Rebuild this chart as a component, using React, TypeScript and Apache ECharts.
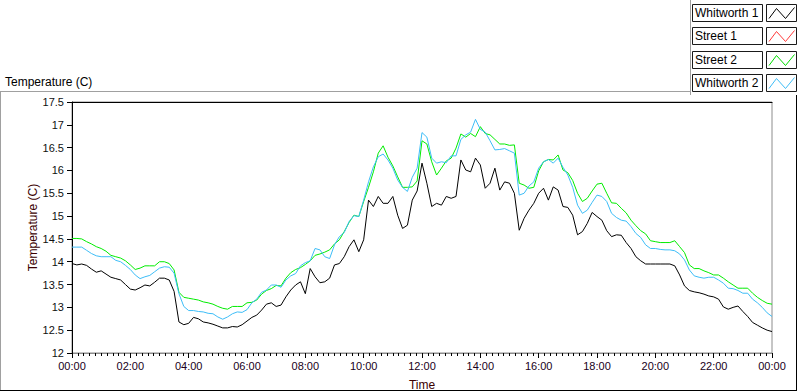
import React, { useEffect, useRef } from "react";
import * as echarts from "echarts";

const seriesNames = ["Whitworth 1", "Street 1", "Street 2", "Whitworth 2"];
const seriesColors = ["#000000", "#ff3a3a", "#00ec00", "#3dbdf7"];
const legendSwatchColors = ["#000000", "#ff3a3a", "#00dd00", "#3dbdf7"];

// samples every 10 minutes, 00:00 .. 24:00
const sampleStepMinutes = 10;

const whitworth1 = [
  13.96, 13.93, 13.95, 13.92, 13.84, 13.77, 13.80, 13.73, 13.66, 13.63,
  13.60, 13.50, 13.40, 13.38, 13.43, 13.49, 13.47, 13.55, 13.64, 13.64,
  13.60, 13.35, 12.68, 12.62, 12.65, 12.78, 12.75, 12.68, 12.66, 12.63,
  12.59, 12.55, 12.55, 12.58, 12.57, 12.62, 12.70, 12.78, 12.83, 12.94,
  13.07, 13.10, 13.02, 13.05, 13.23, 13.38, 13.49, 13.56, 13.30, 13.85,
  13.67, 13.54, 13.56, 13.64, 13.93, 13.96, 14.11, 14.33, 14.48, 14.22,
  14.48, 15.35, 15.21, 15.43, 15.28, 15.28, 15.43, 15.02, 14.73, 14.80,
  15.35, 15.55, 16.16, 15.72, 15.21, 15.28, 15.24, 15.43, 15.39, 15.43,
  16.23, 16.01, 15.97, 16.27, 16.12, 15.61, 15.72, 16.05, 15.57, 15.75,
  15.72, 15.50, 14.69, 14.95, 15.13, 15.28, 15.50, 15.61, 15.35, 15.64,
  15.57, 15.21, 15.19, 15.02, 14.59, 14.66, 14.84, 15.08, 14.99, 14.91,
  14.68, 14.55, 14.59, 14.58, 14.42, 14.29, 14.11, 14.02, 13.95, 13.95,
  13.95, 13.95, 13.95, 13.95, 13.91, 13.71, 13.47, 13.37, 13.34, 13.32,
  13.29, 13.25, 13.23, 13.18, 13.01, 12.96, 13.00, 13.03, 12.91, 12.80,
  12.67, 12.61, 12.55, 12.50, 12.47,
];

const street1: number[] = [];

const street2 = [
  14.51, 14.51, 14.50, 14.44, 14.39, 14.33, 14.29, 14.23, 14.14, 14.11,
  14.08, 14.02, 13.93, 13.83, 13.86, 13.91, 13.91, 13.91, 14.00, 14.00,
  13.96, 13.82, 13.33, 13.22, 13.20, 13.18, 13.16, 13.12, 13.10, 13.07,
  13.02, 12.98, 12.96, 13.02, 13.02, 13.02, 13.10, 13.11, 13.16, 13.29,
  13.37, 13.41, 13.48, 13.47, 13.64, 13.76, 13.83, 13.87, 13.94, 14.02,
  14.14, 14.17, 14.21, 14.26, 14.39, 14.48, 14.66, 14.86, 15.02, 14.99,
  15.32, 15.63, 15.97, 16.38, 16.54, 16.29, 16.10, 15.86, 15.63, 15.63,
  15.64, 15.77, 16.65, 16.58, 16.19, 15.90, 16.05, 16.21, 16.27, 16.49,
  16.80, 16.73, 16.81, 16.74, 16.96, 16.81, 16.78, 16.68, 16.58, 16.58,
  16.55, 16.56, 15.72, 15.68, 15.61, 15.63, 15.99, 16.19, 16.24, 16.23,
  16.34, 16.01, 15.95, 15.78, 15.50, 15.32, 15.39, 15.55, 15.70, 15.72,
  15.50, 15.29, 15.28, 15.17, 15.07, 14.91, 14.79, 14.68, 14.61, 14.46,
  14.44, 14.42, 14.42, 14.42, 14.46, 14.33, 14.20, 13.93, 13.85, 13.85,
  13.80, 13.76, 13.71, 13.71, 13.64, 13.56, 13.49, 13.42, 13.42, 13.42,
  13.31, 13.22, 13.15, 13.09, 13.07,
];

const whitworth2 = [
  14.32, 14.32, 14.32, 14.25, 14.18, 14.13, 14.11, 14.11, 14.11, 14.03,
  14.00, 13.92, 13.83, 13.71, 13.63, 13.67, 13.70, 13.78, 13.86, 13.89,
  13.88, 13.75, 13.30, 13.02, 12.93, 12.93, 12.91, 12.90, 12.87, 12.86,
  12.79, 12.74, 12.79, 12.86, 12.90, 12.89, 12.95, 13.10, 13.18, 13.33,
  13.38, 13.49, 13.49, 13.44, 13.60, 13.69, 13.74, 13.91, 13.98, 14.02,
  14.29, 14.26, 14.11, 14.07, 14.37, 14.55, 14.64, 14.88, 15.01, 14.99,
  15.35, 15.75, 16.08, 16.30, 16.36, 16.23, 16.05, 15.79, 15.63, 15.54,
  15.85, 16.05, 16.83, 16.73, 16.27, 16.16, 16.19, 16.17, 16.32, 16.32,
  16.68, 16.78, 16.84, 17.12, 16.90, 16.84, 16.65, 16.45, 16.46, 16.48,
  16.43, 16.38, 15.46, 15.50, 15.66, 15.75, 16.05, 16.19, 16.24, 16.16,
  16.27, 16.07, 15.90, 15.63, 15.24, 15.06, 15.13, 15.30, 15.46, 15.43,
  15.32, 15.06, 14.97, 14.91, 14.89, 14.77, 14.62, 14.53, 14.37, 14.29,
  14.29, 14.27, 14.26, 14.26, 14.24, 14.17, 14.04, 13.82, 13.69, 13.66,
  13.64, 13.66, 13.66, 13.60, 13.53, 13.42, 13.41, 13.37, 13.31, 13.31,
  13.18, 13.10, 13.00, 12.88, 12.80,
];

const seriesValues = [whitworth1, street1, street2, whitworth2];

const yMin = 12;
const yMax = 17.5;
const yStep = 0.5;
const xMinMinutes = 0;
const xMaxMinutes = 1440;
const xStepMinutes = 120;

const chartTitle = "Temperature (C)";
const yAxisName = "Temperature (C)";
const xAxisName = "Time";

const FONT = "'Liberation Sans', Arial, sans-serif";

function fmtTime(v: number): string {
  const h = Math.floor(v / 60) % 24;
  const m = Math.round(v % 60);
  return String(h).padStart(2, "0") + ":" + String(m).padStart(2, "0");
}

export default function App() {
  const ref = useRef<HTMLDivElement>(null);

  useEffect(() => {
    if (!ref.current) return;
    const chart = echarts.init(ref.current, undefined, { renderer: "svg" });

    const series = seriesNames.map((name, i) => ({
      name,
      type: "line",
      xAxisIndex: 0,
      yAxisIndex: 0,
      showSymbol: false,
      symbol: "none",
      lineStyle: { width: 1, color: seriesColors[i] },
      itemStyle: { color: seriesColors[i] },
      data: seriesValues[i].map((v, k) => [k * sampleStepMinutes, v]),
      z: 2 + i,
    }));

    const legendGraphics: any[] = [];
    seriesNames.forEach((name, i) => {
      const top = 4 + i * 23.4;
      legendGraphics.push({
        type: "rect",
        shape: { x: 692.5, y: Math.round(top) + 0.5, width: 70, height: 17 },
        style: { fill: "#ffffff", stroke: "#1a1a1a", lineWidth: 1 },
        silent: true,
      });
      legendGraphics.push({
        type: "text",
        x: 695,
        y: Math.round(top) + 9,
        style: {
          text: name,
          fill: "#000000",
          font: `12px ${FONT}`,
          verticalAlign: "middle",
          align: "left",
        },
        silent: true,
      });
      const sx = 766.5;
      const sy = Math.round(top) + 0.5;
      legendGraphics.push({
        type: "rect",
        shape: { x: sx, y: sy, width: 30, height: 17 },
        style: { fill: "#ffffff", stroke: "#1a1a1a", lineWidth: 1 },
        silent: true,
      });
      legendGraphics.push({
        type: "polyline",
        shape: {
          points: [
            [sx + 2.5, sy + 14],
            [sx + 10, sy + 4],
            [sx + 19, sy + 14],
            [sx + 28, sy + 3],
          ],
        },
        style: { stroke: legendSwatchColors[i], lineWidth: 1, fill: null },
        silent: true,
      });
    });

    const option: any = {
      animation: false,
      backgroundColor: "#ffffff",
      textStyle: { fontFamily: FONT },
      grid: {
        left: 72,
        right: 28,
        top: 102,
        bottom: 39,
        show: true,
        borderColor: "#8c8c8c",
        borderWidth: 1,
        backgroundColor: "#ffffff",
        containLabel: false,
        outerBoundsMode: "none",
      },
      xAxis: [
        {
          type: "value",
          min: xMinMinutes,
          max: xMaxMinutes,
          interval: xStepMinutes,
          position: "bottom",
          name: xAxisName,
          nameLocation: "middle",
          nameGap: 26,
          nameMoveOverlap: false,
          nameTextStyle: { color: "#3a0000", fontSize: 12, fontFamily: FONT, verticalAlign: "top" },
          axisLine: { show: true, lineStyle: { color: "#8c8c8c", width: 1 } },
          axisTick: { show: true, inside: false, length: 5, lineStyle: { color: "#000000" } },
          minorTick: { show: true, splitNumber: 10, length: 3, lineStyle: { color: "#000000" } },
          axisLabel: {
            show: true,
            margin: 7,
            color: "#200020",
            fontSize: 11,
            fontFamily: FONT,
            formatter: (v: number) => fmtTime(v),
            showMinLabel: true,
            showMaxLabel: true,
          },
          splitLine: { show: false },
          minorSplitLine: { show: false },
        },
        {
          type: "value",
          min: xMinMinutes,
          max: xMaxMinutes,
          position: "top",
          axisLine: { show: true, lineStyle: { color: "#000000", width: 1 } },
          axisTick: { show: false },
          axisLabel: { show: false },
          splitLine: { show: false },
        },
      ],
      yAxis: {
        type: "value",
        min: yMin,
        max: yMax,
        interval: yStep,
        name: yAxisName,
        nameLocation: "middle",
        nameGap: 33,
        nameMoveOverlap: false,
        nameTextStyle: { color: "#3a0000", fontSize: 12, fontFamily: FONT },
        axisLine: { show: true, lineStyle: { color: "#000000", width: 1 } },
        axisTick: { show: true, inside: false, length: 5, lineStyle: { color: "#000000" } },
        axisLabel: {
          show: true,
          margin: 8,
          color: "#101010",
          fontSize: 11,
          fontFamily: FONT,
          formatter: (v: number) => String(v),
        },
        splitLine: { show: false },
      },
      tooltip: { show: false },
      legend: { show: false },
      graphic: [
        // outer panel frame
        { type: "line", shape: { x1: 0, y1: 91.5, x2: 690, y2: 91.5 }, style: { stroke: "#a0a0a0", lineWidth: 1 }, silent: true },
        { type: "line", shape: { x1: 0.5, y1: 91.5, x2: 0.5, y2: 391 }, style: { stroke: "#a0a0a0", lineWidth: 1 }, silent: true },
        { type: "line", shape: { x1: 0, y1: 390.5, x2: 797, y2: 390.5 }, style: { stroke: "#000000", lineWidth: 1 }, silent: true },
        { type: "line", shape: { x1: 796.5, y1: 95, x2: 796.5, y2: 391 }, style: { stroke: "#000000", lineWidth: 1 }, silent: true },
        { type: "line", shape: { x1: 690.5, y1: 0, x2: 690.5, y2: 95 }, style: { stroke: "#a0a0a0", lineWidth: 1 }, silent: true },
        {
          type: "text",
          x: 5,
          y: 82,
          style: {
            text: chartTitle,
            fill: "#000000",
            font: `12px ${FONT}`,
            verticalAlign: "middle",
            align: "left",
          },
          silent: true,
        },
        ...legendGraphics,
      ],
      series,
    };

    chart.setOption(option);
    return () => chart.dispose();
  }, []);

  return (
    <div
      ref={ref}
      style={{ position: "absolute", left: 0, top: 0, width: 800, height: 392, background: "#ffffff" }}
    />
  );
}
